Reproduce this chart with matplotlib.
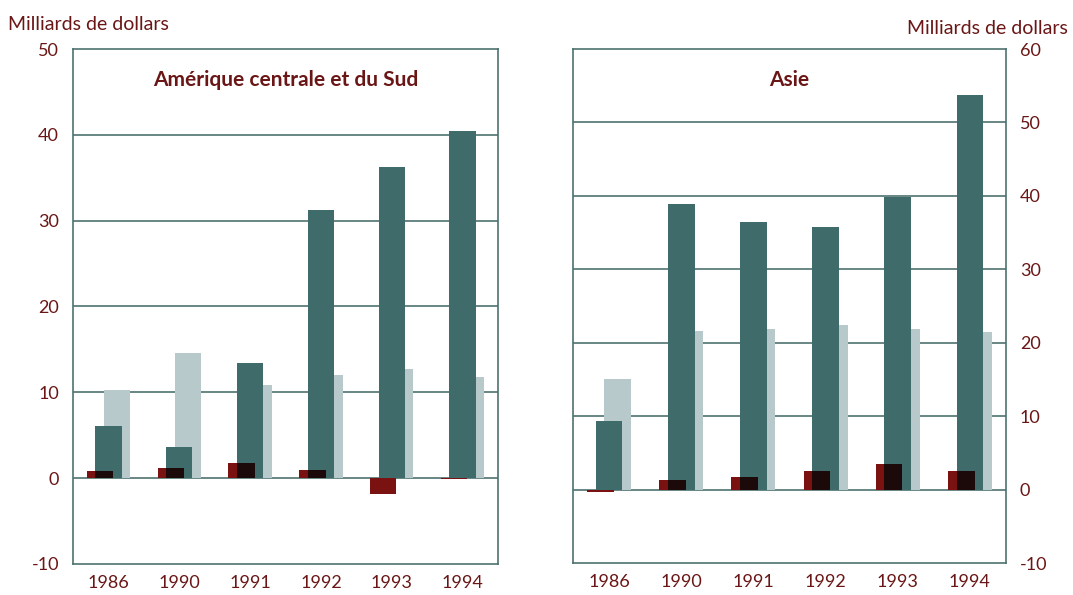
import numpy as np
import matplotlib
matplotlib.use("Agg")
import matplotlib.pyplot as plt

years = ["1986", "1990", "1991", "1992", "1993", "1994"]

# Amérique centrale et du Sud
am_red = [0.8, 1.2, 1.8, 0.9, -1.8, -0.1]
am_teal = [6.1, 3.6, 13.4, 31.2, 36.3, 40.4]
am_light = [10.3, 14.6, 10.8, 12.0, 12.7, 11.8]

# Asie
as_red = [-0.3, 1.3, 1.7, 2.5, 3.5, 2.5]
as_teal = [9.4, 38.9, 36.5, 35.7, 39.9, 53.7]
as_light = [15.1, 21.6, 21.9, 22.4, 21.8, 21.5]

RED = "#7b1212"
TEAL = "#3f6b6a"
LIGHT = "#b7c9ca"
OVER = "#1c0a0a"
TXT = "#6a1616"
GRID = "#4e726f"

plt.rcParams['font.family'] = ['Lato', 'DejaVu Sans']

fig = plt.figure(figsize=(10.73, 5.95), dpi=100)
axL = fig.add_axes([73/1073, 1-564/595, 425/1073, 515/595])
axR = fig.add_axes([573/1073, 1-563/595, 433/1073, 514/595])

W = 0.37
OFF = 0.12


def draw(ax, red, teal, light, ylim, ticks, title, right=False):
    x = np.arange(len(years))
    red = np.array(red); teal = np.array(teal); light = np.array(light)
    ax.bar(x + OFF, light, W, color=LIGHT, zorder=2, linewidth=0)
    ax.bar(x, teal, W, color=TEAL, zorder=3, linewidth=0)
    ax.bar(x - OFF, red, W, color=RED, zorder=4, linewidth=0)
    # overlap of red over teal appears nearly black
    lo = -W/2
    hi = -OFF + W/2
    ov = np.where(red > 0, np.minimum(red, teal), 0)
    ax.bar(x + (lo + hi)/2, ov, hi - lo, color=OVER, zorder=5, linewidth=0)
    ax.set_xlim(-0.5, len(years) - 0.5)
    ax.set_ylim(*ylim)
    ax.set_yticks(ticks)
    ax.set_yticklabels([str(t) for t in ticks])
    ax.set_xticks(x)
    ax.set_xticklabels(years)
    for t in ticks[1:-1]:
        ax.axhline(t, color=GRID, lw=1.2, zorder=1)
    for s in ax.spines.values():
        s.set_color(GRID)
        s.set_linewidth(1.2)
    ax.tick_params(axis='both', length=0, colors=TXT, labelsize=13, pad=8)
    ax.tick_params(axis='y', pad=10)
    if right:
        ax.yaxis.tick_right()
    ax.text(0.5, 0.94, title, transform=ax.transAxes, ha='center', va='center',
            fontsize=15, fontweight='bold', color=TXT)


draw(axL, am_red, am_teal, am_light, (-10, 50), [-10, 0, 10, 20, 30, 40, 50],
     "Amérique centrale et du Sud")
draw(axR, as_red, as_teal, as_light, (-10, 60), [-10, 0, 10, 20, 30, 40, 50, 60],
     "Asie", right=True)

fig.text(8/1073, 1-24/595, "Milliards de dollars", ha='left', va='center',
         fontsize=14, color=TXT)
fig.text(1068/1073, 1-28/595, "Milliards de dollars", ha='right', va='center',
         fontsize=14, color=TXT)

fig.savefig("out.png", dpi=100, facecolor='white')
